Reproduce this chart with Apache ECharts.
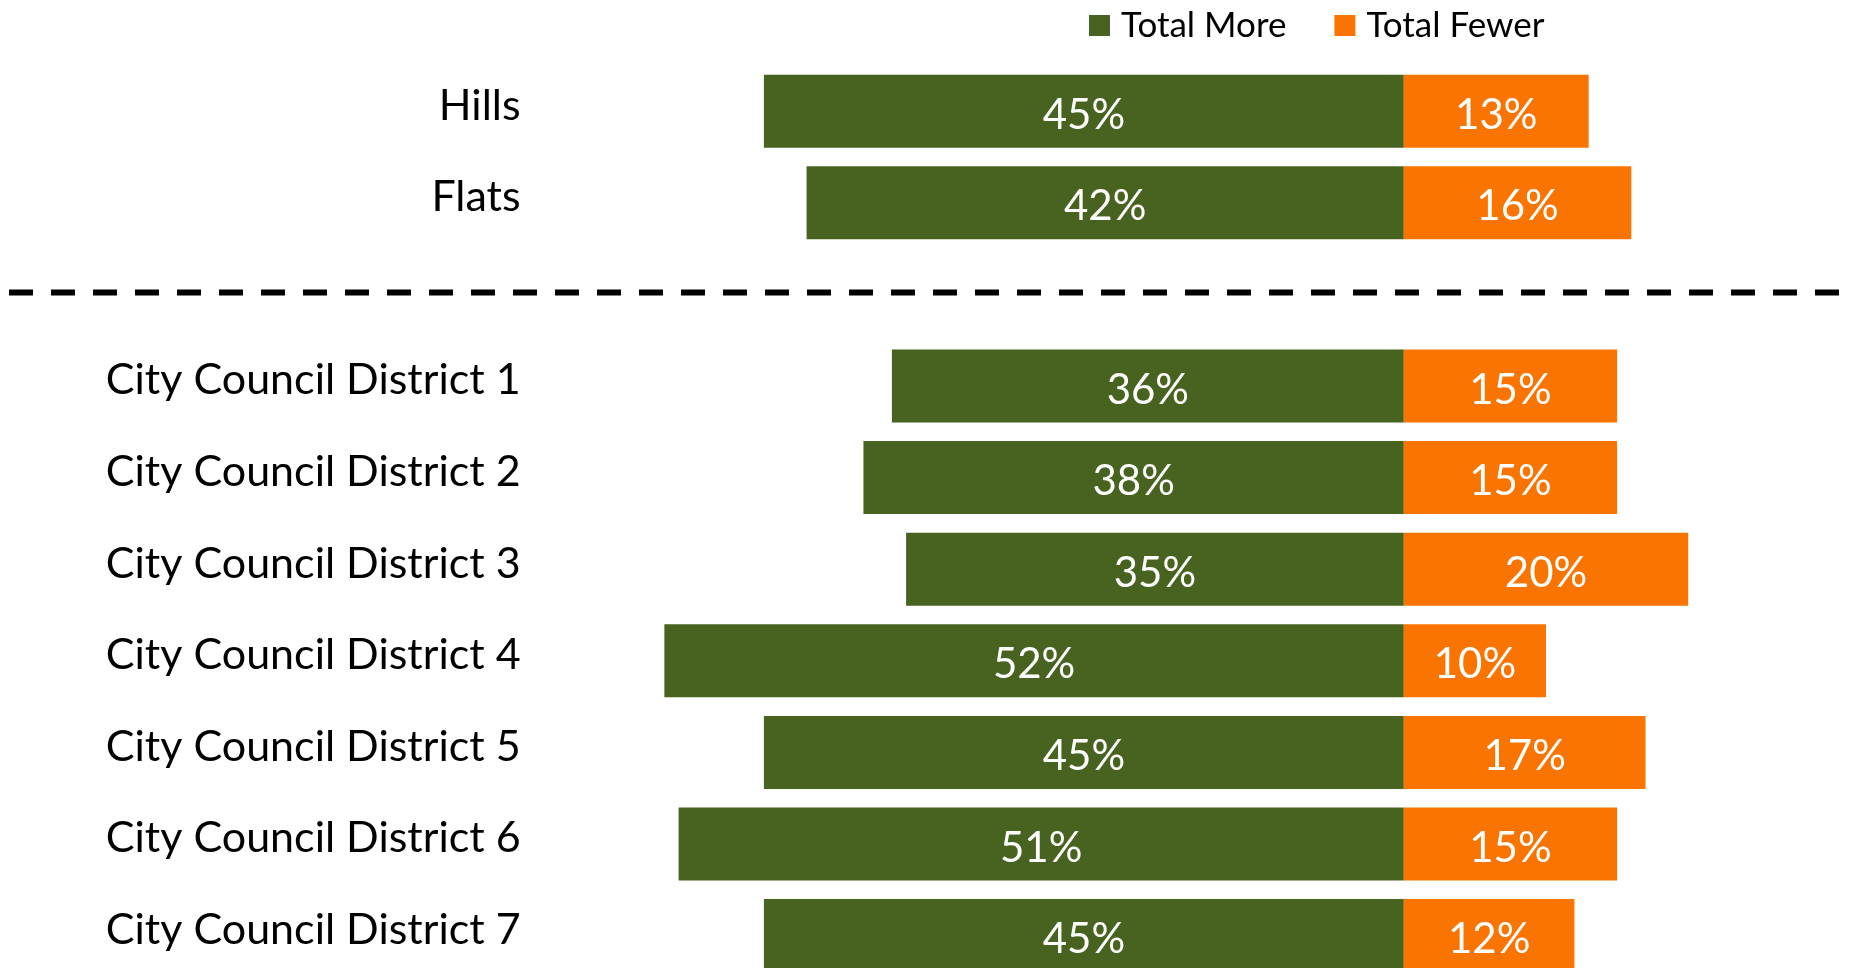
<!DOCTYPE html>
<html>
<head>
<meta charset="utf-8">
<script src="https://cdn.jsdelivr.net/npm/echarts@6/dist/echarts.min.js"></script>
<style>
html,body{margin:0;padding:0;background:#fff;overflow:hidden;}
#chart{width:1853px;height:1000px;}
</style>
</head>
<body>
<div id="chart"></div>
<script>
const categories = ['Hills', 'Flats', ' ', 'City Council District 1', 'City Council District 2', 'City Council District 3', 'City Council District 4', 'City Council District 5', 'City Council District 6', 'City Council District 7'];
const totalMore = [45, 42, null, 36, 38, 35, 52, 45, 51, 45];
const totalFewer = [13, 16, null, 15, 15, 20, 10, 17, 15, 12];
const seriesNames = ['Total More', 'Total Fewer'];

const FONT = 'Lato';
const chart = echarts.init(document.getElementById('chart'), null, {renderer: 'canvas'});

const labelOpt = {
  show: true,
  position: 'inside',
  color: '#ffffff',
  fontFamily: FONT,
  fontSize: 42,
  offset: [0, 4],
  formatter: p => Math.abs(p.value) + '%'
};

chart.setOption({
  animation: false,
  backgroundColor: '#ffffff',
  legend: {
    left: 1084,
    top: 3,
    itemWidth: 21,
    itemHeight: 21,
    itemGap: 48,
    icon: 'rect',
    textStyle: {fontFamily: FONT, fontSize: 35, color: '#000000', padding: [0, 0, 0, 6]},
    data: seriesNames
  },
  grid: {left: 550.6, top: 65.4, width: 1279.8, height: 916, containLabel: false},
  xAxis: {
    type: 'value', min: -60, max: 30,
    show: false
  },
  yAxis: {
    type: 'category',
    inverse: true,
    data: categories,
    axisLine: {show: false},
    axisTick: {show: false},
    splitLine: {show: false},
    axisLabel: {
      margin: 30,
      fontFamily: FONT,
      fontSize: 43,
      color: '#000000',
      verticalAlign: 'bottom',
      lineHeight: 11
    }
  },
  series: [
    {
      name: seriesNames[0], type: 'bar', stack: 'total', barWidth: 73,
      itemStyle: {color: '#47631F'},
      label: labelOpt,
      data: totalMore.map(v => v == null ? null : -v)
    },
    {
      name: seriesNames[1], type: 'bar', stack: 'total', barWidth: 73,
      itemStyle: {color: '#F97400'},
      label: labelOpt,
      data: totalFewer
    }
  ]
});

const sepY = chart.convertToPixel({yAxisIndex: 0}, ' ') - 2;
chart.setOption({
  graphic: [{
    type: 'line',
    shape: {x1: 9, y1: sepY, x2: 1839, y2: sepY},
    style: {stroke: '#000000', lineWidth: 6, lineDash: [24, 18]}
  }]
});
</script>
</body>
</html>
